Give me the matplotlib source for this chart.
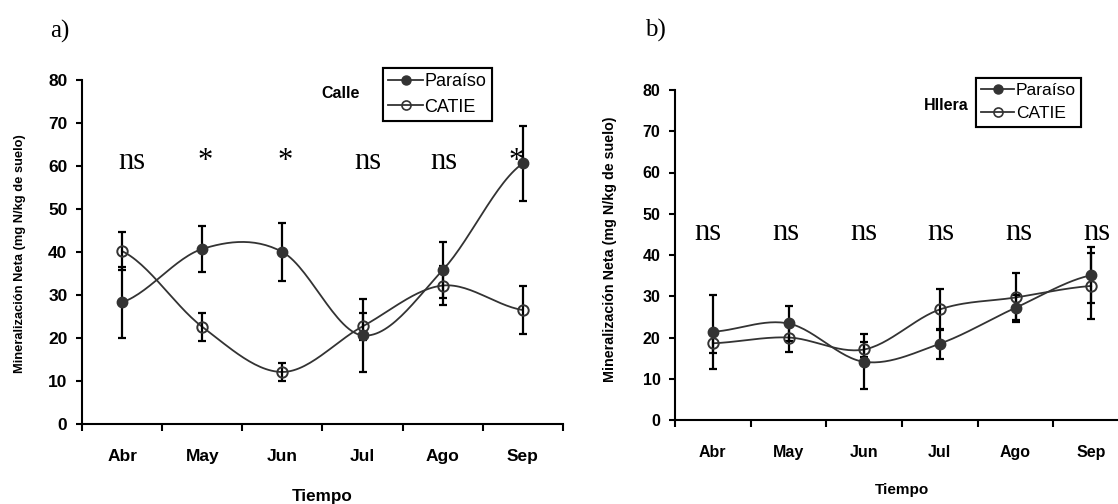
import matplotlib
matplotlib.use("Agg")
import matplotlib.pyplot as plt
import numpy as np
from matplotlib.lines import Line2D

plt.rcParams['font.family'] = ['Liberation Sans', 'DejaVu Sans']

# datos
meses = ['Abr', 'May', 'Jun', 'Jul', 'Ago', 'Sep']

calle_paraiso = [28.3, 40.7, 40.0, 20.6, 35.8, 60.6]
calle_paraiso_err = [8.3, 5.4, 6.8, 8.5, 6.5, 8.7]
calle_catie = [40.2, 22.6, 12.1, 22.7, 32.2, 26.5]
calle_catie_err = [4.5, 3.3, 2.2, 3.2, 4.6, 5.5]
calle_sig = ['ns', '*', '*', 'ns', 'ns', '*']

hilera_paraiso = [21.4, 23.4, 14.1, 18.5, 27.2, 35.1]
hilera_paraiso_err = [9.0, 4.2, 6.7, 3.6, 3.0, 6.8]
hilera_catie = [18.6, 20.0, 17.1, 26.8, 29.7, 32.5]
hilera_catie_err = [2.4, 3.4, 1.8, 4.9, 6.0, 8.1]
hilera_sig = ['ns', 'ns', 'ns', 'ns', 'ns', 'ns']

W, H = 1118, 504
fig = plt.figure(figsize=(W / 100, H / 100), dpi=100)


def curva_suave(ax, x, y, **kw):
    # linea suavizada tipo Excel (Bezier), solo para dibujar
    x = np.asarray(x, float)
    y = np.asarray(y, float)
    n = len(y)
    xs, ys = [], []
    t = np.linspace(0, 1, 30)
    for i in range(n - 1):
        y0, y3 = y[i], y[i + 1]
        ya = y[i - 1] if i > 0 else y[i]
        yb = y[i + 2] if i + 2 < n else y[i + 1]
        y1 = y0 + (y3 - ya) / 6.0
        y2 = y3 - (yb - y0) / 6.0
        xx = x[i] + (x[i + 1] - x[i]) * t
        yy = ((1 - t) ** 3 * y0 + 3 * (1 - t) ** 2 * t * y1
              + 3 * (1 - t) * t ** 2 * y2 + t ** 3 * y3)
        xs.extend(xx)
        ys.extend(yy)
    ax.plot(xs, ys, **kw)


def panel(rect, par, par_err, cat, cat_err, sig, sig_y, tick_fs, sig_dx):
    ax = fig.add_axes(rect)
    x = np.arange(len(meses))
    curva_suave(ax, x, par, color='#333333', lw=1.3, zorder=2)
    curva_suave(ax, x, cat, color='#333333', lw=1.3, zorder=2)
    ax.errorbar(x, par, yerr=par_err, fmt='none', ecolor='black',
                elinewidth=1.6, capsize=3, capthick=1.6, zorder=3)
    ax.errorbar(x, cat, yerr=cat_err, fmt='none', ecolor='black',
                elinewidth=1.6, capsize=3, capthick=1.6, zorder=3)
    ax.plot(x, par, 'o', color='#333333', ms=7.5, zorder=4)
    ax.plot(x, cat, 'o', mfc='none', mec='#333333', mew=1.4, ms=7.5, zorder=4)
    for i, s in enumerate(sig):
        ax.text(i + sig_dx[i], sig_y, s, ha='center', va='baseline',
                family='Liberation Serif', fontsize=22)
    ax.set_xlim(-0.5, len(meses) - 0.5)
    ax.set_ylim(0, 80)
    ax.set_yticks(range(0, 81, 10))
    ax.set_xticks(np.arange(-0.5, len(meses), 1.0))
    ax.set_xticklabels([])
    ax.set_xticks(x, minor=True)
    ax.set_xticklabels(meses, minor=True, fontweight='bold', fontsize=tick_fs)
    ax.tick_params(axis='x', which='major', direction='out', length=5, width=1.5)
    ax.tick_params(axis='x', which='minor', length=0, pad=18)
    ax.tick_params(axis='y', direction='out', length=4, width=1.5, pad=6.5,
                   labelsize=tick_fs)
    for lab in ax.get_yticklabels():
        lab.set_fontweight('bold')
    for sp in ['top', 'right']:
        ax.spines[sp].set_visible(False)
    for sp in ['left', 'bottom']:
        ax.spines[sp].set_linewidth(1.5)
    ax.patch.set_alpha(0)
    return ax


# panel a) Calle, panel b) Hilera
ax1 = panel([82 / W, 1 - 424 / H, 481 / W, 344 / H],
            calle_paraiso, calle_paraiso_err, calle_catie, calle_catie_err,
            calle_sig, 59.3, 12.5, [0.12, 0.04, 0.03, 0.06, 0.01, -0.08])
ax2 = panel([675 / W, 1 - 420 / H, 454 / W, 330 / H],
            hilera_paraiso, hilera_paraiso_err, hilera_catie, hilera_catie_err,
            hilera_sig, 43.6, 11.5, [-0.07, -0.03, 0.0, 0.01, 0.05, 0.07])

fig.text(60 / W, 1 - 31 / H, 'a)', family='Liberation Serif', fontsize=18,
         ha='center', va='center')
fig.text(655 / W, 1 - 30 / H, 'b)', family='Liberation Serif', fontsize=18,
         ha='center', va='center')

fig.text(20 / W, 1 - 254 / H, 'Mineralización Neta (mg N/kg de suelo)',
         rotation=90, fontweight='bold', fontsize=9.3, ha='center', va='center')
fig.text(610 / W, 1 - 249 / H, 'Mineralización Neta (mg N/kg de suelo)',
         rotation=90, fontweight='bold', fontsize=10.3, ha='center', va='center')

fig.text(322 / W, 1 - 497 / H, 'Tiempo', fontweight='bold', fontsize=12.3,
         ha='center', va='center')
fig.text(902 / W, 1 - 490 / H, 'Tiempo', fontweight='bold', fontsize=11,
         ha='center', va='center')

fig.text(341 / W, 1 - 93 / H, 'Calle', fontweight='bold', fontsize=11.5,
         ha='center', va='center')
fig.text(946 / W, 1 - 106 / H, 'Hllera', fontweight='bold', fontsize=11.5,
         ha='center', va='center')

# leyendas
h_par = Line2D([], [], color='#333333', lw=1.3, marker='o', ms=6.5)
h_cat = Line2D([], [], color='#333333', lw=1.3, marker='o', ms=6.5,
               mfc='none', mew=1.2)
for (x0, y0, fs) in [(383, 68, 13), (976, 78, 12.5)]:
    leg = fig.legend([h_par, h_cat], ['Paraíso', 'CATIE'], loc='upper left',
                     bbox_to_anchor=(x0 / W, 1 - y0 / H), fontsize=fs,
                     frameon=True, fancybox=False, edgecolor='black',
                     handlelength=1.9, handletextpad=0.1, borderpad=0.3,
                     labelspacing=0.45, borderaxespad=0, framealpha=1)
    leg.get_frame().set_linewidth(1.5)
    fig.add_artist(leg)

fig.savefig('out.png', dpi=100)
